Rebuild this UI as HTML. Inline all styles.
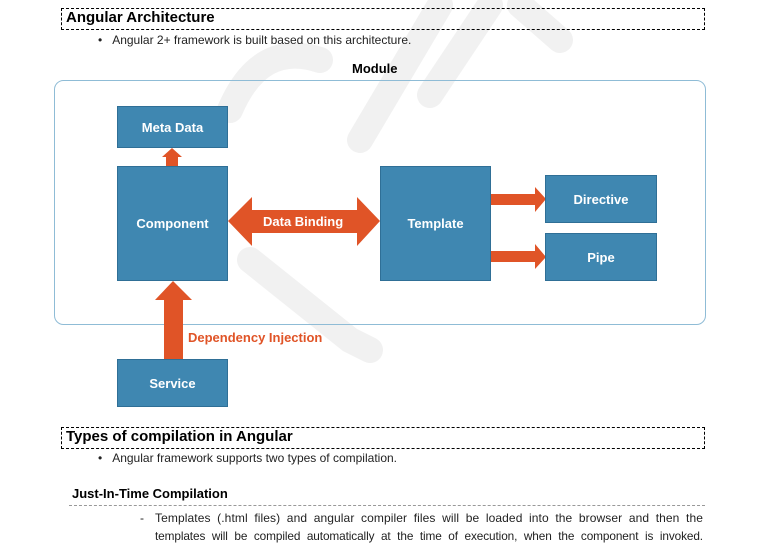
<!DOCTYPE html>
<html><head><style>
body{margin:0;width:760px;height:557px;background:#fff;font-family:"Liberation Sans",sans-serif;position:relative;overflow:hidden}
.a{position:absolute}
.h{border:1px dashed #000;font-weight:bold;font-size:15px;padding-left:4px;box-sizing:border-box;line-height:18px}
.t{font-size:12px;color:#222}
.j{text-align:justify;text-align-last:justify;white-space:nowrap}
.box{position:absolute;background:#3f87b1;color:#fff;font-weight:bold;font-size:13px;display:flex;align-items:center;justify-content:center;border:1px solid #2f6f96;box-sizing:border-box}
</style></head><body>
<svg class="a" style="left:0;top:0" width="760" height="557">
<g stroke="#f1f1f1" stroke-width="26" fill="none" stroke-linecap="round">
<path d="M230 110 Q260 40 320 60"/>
<path d="M440 5 L360 140"/>
<path d="M490 5 L430 95"/>
<path d="M520 5 L560 40"/>
<path d="M250 260 L350 340 L370 350"/>
</g>
<rect x="54.5" y="80.5" width="651" height="244" rx="9" fill="none" stroke="#8fbcd6" stroke-width="1"/>
<g fill="#e05427">
<polygon points="228,221 252,197 252,210 357,210 357,197 380,221 357,246 357,233 252,233 252,246"/>
<polygon points="166,166 166,157 162,157 172,148 182,157 178,157 178,166"/>
<polygon points="164,359 164,300 155,300 173,281 192,300 183,300 183,359"/>
<polygon points="491,194 535,194 535,187 546,199 535,212 535,205 491,205"/>
<polygon points="491,251 535,251 535,244 546,257 535,269 535,262 491,262"/>
</g>
</svg>
<div class="a h" style="left:61px;top:8px;width:644px;height:22px">Angular Architecture</div>
<div class="a t" style="left:98px;top:33px">•&nbsp;&nbsp;&nbsp;Angular 2+ framework is built based on this architecture.</div>
<div class="a" style="left:352px;top:61px;font-weight:bold;font-size:13px">Module</div>
<div class="box" style="left:117px;top:106px;width:111px;height:42px">Meta Data</div>
<div class="box" style="left:117px;top:166px;width:111px;height:115px">Component</div>
<div class="box" style="left:380px;top:166px;width:111px;height:115px">Template</div>
<div class="box" style="left:545px;top:175px;width:112px;height:48px">Directive</div>
<div class="box" style="left:545px;top:233px;width:112px;height:48px">Pipe</div>
<div class="box" style="left:117px;top:359px;width:111px;height:48px">Service</div>
<div class="a" style="left:263px;top:214px;color:#fff;font-weight:bold;font-size:13px">Data Binding</div>
<div class="a" style="left:188px;top:330px;color:#e05427;font-weight:bold;font-size:13px">Dependency Injection</div>
<div class="a h" style="left:61px;top:427px;width:644px;height:22px">Types of compilation in Angular</div>
<div class="a t" style="left:98px;top:451px">•&nbsp;&nbsp;&nbsp;Angular framework supports two types of compilation.</div>
<div class="a" style="left:72px;top:486px;font-weight:bold;font-size:13px">Just-In-Time Compilation</div>
<div class="a" style="left:69px;top:505px;width:636px;border-top:1px dashed #999"></div>
<div class="a t" style="left:140px;top:511px">-</div>
<div class="a t j" style="left:155px;top:511px;width:548px;letter-spacing:0.1px">Templates (.html files) and angular compiler files will be loaded into the browser and then the</div>
<div class="a t j" style="left:155px;top:529px;width:548px;font-size:11.8px;letter-spacing:-0.1px">templates will be compiled automatically at the time of execution, when the component is invoked.</div>
</body></html>
